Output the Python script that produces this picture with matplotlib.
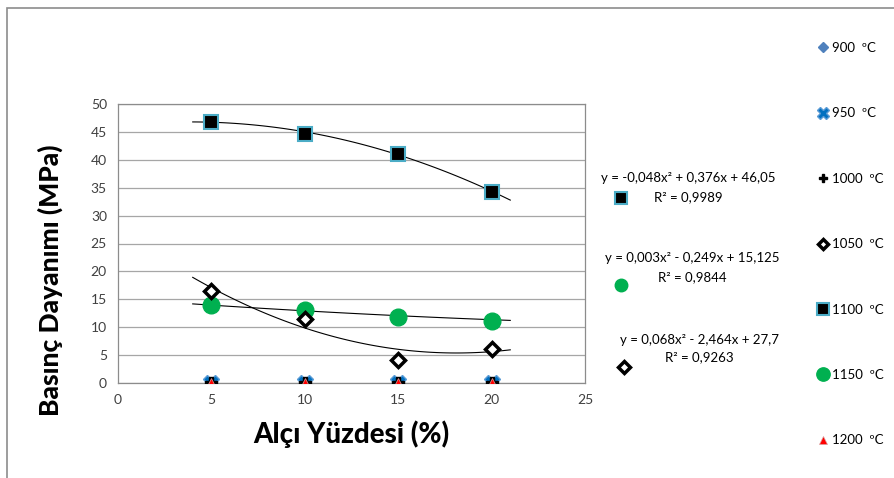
import matplotlib.pyplot as plt
import matplotlib.patches as patches
import numpy as np

plt.rcParams['font.family'] = ['Lato', 'DejaVu Sans']

# data
x = [5, 10, 15, 20]
s900 = [0, 0, 0, 0]
s950 = [0, 0, 0, 0]
s1000 = [0, 0, 0, 0]
s1050 = [16.5, 11.5, 4.2, 6.1]
s1100 = [46.8, 44.7, 41.0, 34.2]
s1150 = [13.9, 13.0, 11.8, 11.2]
s1200 = [0, 0, 0, 0]

labels = ['900  ºC', '950  ºC', '1000  ºC', '1050  ºC', '1100  ºC', '1150  ºC', '1200  ºC']

# trendline coefficients (a, b, c) as printed on the chart
coef1100 = [-0.048, 0.376, 46.05]
coef1150 = [0.003, -0.249, 15.125]
coef1050 = [0.068, -2.464, 27.7]
eq1100 = ['y = -0,048x² + 0,376x + 46,05', 'R² = 0,9989']
eq1150 = ['y = 0,003x² - 0,249x + 15,125', 'R² = 0,9844']
eq1050 = ['y = 0,068x² - 2,464x + 27,7', 'R² = 0,9263']

fig = plt.figure(figsize=(8.95, 4.78), dpi=100)
W, H = 895, 478
ax = fig.add_axes([118 / W, 1 - 383 / H, (585 - 118) / W, (383 - 104) / H])

grey = '#8c8c8c'
ax.set_xlim(0, 25)
ax.set_ylim(0, 50)
ax.set_xticks([0, 5, 10, 15, 20, 25])
ax.set_yticks(range(0, 51, 5))
ax.yaxis.grid(True, color='#a6a6a6', lw=0.9)
ax.set_axisbelow(True)
for sp in ax.spines.values():
    sp.set_color(grey)
    sp.set_linewidth(0.9)
ax.tick_params(length=0, labelsize=10, colors='#404040', pad=8)

# trendlines
xt = np.linspace(4, 21, 100)
for c in [coef1100, coef1150, coef1050]:
    ax.plot(xt, np.polyval(c, xt), color='black', lw=0.8, zorder=2)

h = []
h += ax.plot(x, s900, 'D', ms=6, color='#4f81bd', ls='none', zorder=3)
h += ax.plot(x, s950, 'X', ms=11, color='#0070c0', mec='#5b9bd5', ls='none', zorder=3)
h += ax.plot(x, s1000, 'P', ms=8, color='black', ls='none', zorder=3)
h += ax.plot(x, s1050, 'D', ms=7, mfc='white', mec='black', mew=2.5, ls='none', zorder=4)
h += ax.plot(x, s1100, 's', ms=10, mfc='black', mec='#4bacc6', mew=1.5, ls='none', zorder=4)
h += ax.plot(x, s1150, 'o', ms=12, color='#00b050', ls='none', zorder=3)
h += ax.plot(x, s1200, '^', ms=7, color='#ff0000', mec='#d9a0a0', mew=0.5, ls='none', zorder=5)

ax.set_ylabel('Basınç Dayanımı (MPa)', fontsize=19, fontweight='black')
ax.yaxis.set_label_coords(-0.118, 0.37)
ax.set_xlabel('Alçı Yüzdesi (%)', fontsize=20, fontweight='black', labelpad=10)

fig.legend(h, labels, loc='upper left', bbox_to_anchor=(807 / W, 1 - 30 / H),
           frameon=False, labelspacing=4.05, handlelength=0.7, handletextpad=0.3,
           markerscale=0.8, fontsize=9.5)

# trendline labels
def eq_label(lines, cx, y1, y2, marker, mx, my, **kw):
    fig.text(cx / W, 1 - y1 / H, lines[0], ha='center', va='center', fontsize=9.5)
    fig.text(cx / W, 1 - y2 / H, lines[1], ha='center', va='center', fontsize=9.5)
    fig.add_artist(plt.Line2D([mx / W], [1 - my / H], marker=marker, ls='none',
                              transform=fig.transFigure, **kw))

eq_label(eq1100, 688, 178, 197, 's', 621, 198, ms=9, mfc='black', mec='#4bacc6', mew=1.5)
eq_label(eq1150, 692, 258, 277, 'o', 621, 285, ms=9, color='#00b050')
eq_label(eq1050, 699, 340, 357, 'D', 624, 367, ms=6, mfc='white', mec='black', mew=2.5)

# outer chart frame
fig.add_artist(patches.Rectangle((7 / W, -0.1), 2, 1.1 - 8 / H, transform=fig.transFigure,
                                 fill=False, ec=grey, lw=1.2))

fig.savefig('out.png', dpi=100)
